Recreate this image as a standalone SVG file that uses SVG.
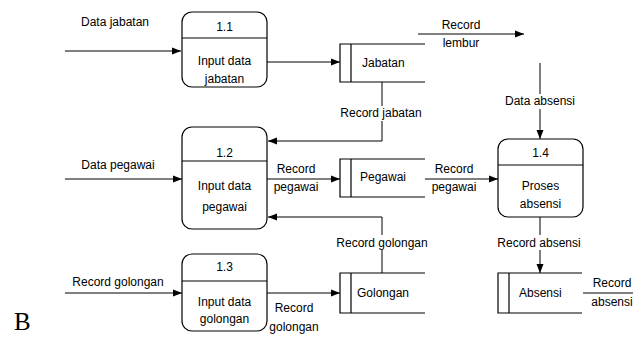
<svg xmlns="http://www.w3.org/2000/svg" width="636" height="337" viewBox="0 0 636 337">
<style>
text{font-family:"Liberation Sans",Arial,sans-serif;font-size:12px;fill:#000}
.c{text-anchor:middle}
.ln{fill:none;stroke:#000;stroke-width:1}
.box{fill:#fff;stroke:#000;stroke-width:1.2}
.st{fill:none;stroke:#000;stroke-width:1.2}
</style>
<defs>
<marker id="ah" markerWidth="9" markerHeight="8" refX="9" refY="4" orient="auto" markerUnits="userSpaceOnUse">
<path d="M0,0.5 L9,4 L0,7.5 Z" fill="#000"/>
</marker>
</defs>
<rect width="636" height="337" fill="#fff"/>
<g id="connectors">
<path class="ln" d="M65,51 H181" marker-end="url(#ah)"/>
<path class="ln" d="M267,62 H340" marker-end="url(#ah)"/>
<path class="ln" d="M418,34 H524" marker-end="url(#ah)"/>
<path class="ln" d="M382,82 V141 H268" marker-end="url(#ah)"/>
<path class="ln" d="M540,63 V139" marker-end="url(#ah)"/>
<path class="ln" d="M65,179 H182" marker-end="url(#ah)"/>
<path class="ln" d="M267,179 H340" marker-end="url(#ah)"/>
<path class="ln" d="M425,179 H498" marker-end="url(#ah)"/>
<path class="ln" d="M382,273 V217 H268" marker-end="url(#ah)"/>
<path class="ln" d="M65,293 H182" marker-end="url(#ah)"/>
<path class="ln" d="M267,293 H340" marker-end="url(#ah)"/>
<path class="ln" d="M540,217 V273" marker-end="url(#ah)"/>
<path class="ln" d="M583,293 H633"/>
<rect x="338" y="106" width="88" height="15" fill="#fff"/>
<rect x="503" y="94" width="74" height="15" fill="#fff"/>
<rect x="336" y="235" width="94" height="15" fill="#fff"/>
<rect x="497" y="235" width="86" height="15" fill="#fff"/>
<text x="115" y="26" class="c">Data jabatan</text>
<text x="461" y="29" class="c">Record</text>
<text x="461" y="47" class="c">lembur</text>
<text x="381" y="117" class="c">Record jabatan</text>
<text x="540" y="105" class="c">Data absensi</text>
<text x="118" y="169" class="c">Data pegawai</text>
<text x="296" y="173" class="c">Record</text>
<text x="296" y="191" class="c">pegawai</text>
<text x="454" y="173" class="c">Record</text>
<text x="454" y="191" class="c">pegawai</text>
<text x="382" y="247" class="c">Record golongan</text>
<text x="539" y="247" class="c">Record absensi</text>
<text x="118" y="286" class="c">Record golongan</text>
<text x="294" y="312" class="c">Record</text>
<text x="294" y="331" class="c">golongan</text>
<text x="612" y="287" class="c">Record</text>
<text x="612" y="306" class="c">absensi</text>
</g>
<g id="p11">
<rect class="box" x="182" y="12" width="85" height="75" rx="10"/>
<line class="st" x1="182" y1="38" x2="267" y2="38"/>
<text x="224.5" y="31" class="c">1.1</text>
<text x="224.5" y="65" class="c">Input data</text>
<text x="224.5" y="83" class="c">jabatan</text>
</g>
<g id="p12">
<rect class="box" x="182" y="127" width="85" height="102" rx="10"/>
<line class="st" x1="182" y1="161" x2="267" y2="161"/>
<text x="224.5" y="157" class="c">1.2</text>
<text x="224.5" y="190" class="c">Input data</text>
<text x="224.5" y="211" class="c">pegawai</text>
</g>
<g id="p13">
<rect class="box" x="182" y="254" width="85" height="77" rx="10"/>
<line class="st" x1="182" y1="281" x2="267" y2="281"/>
<text x="224.5" y="271" class="c">1.3</text>
<text x="224.5" y="306" class="c">Input data</text>
<text x="224.5" y="323" class="c">golongan</text>
</g>
<g id="p14">
<rect class="box" x="498" y="139" width="85" height="78" rx="10"/>
<line class="st" x1="498" y1="165" x2="583" y2="165"/>
<text x="540.5" y="157" class="c">1.4</text>
<text x="540.5" y="190" class="c">Proses</text>
<text x="540.5" y="208" class="c">absensi</text>
</g>
<g id="dsJabatan">
<path class="st" d="M425,44 H340 V82 H425 M351,44 V82"/>
<text x="362" y="67">Jabatan</text>
</g>
<g id="dsPegawai">
<path class="st" d="M425,159 H340 V197 H425 M351,159 V197"/>
<text x="360" y="181">Pegawai</text>
</g>
<g id="dsGolongan">
<path class="st" d="M425,273 H340 V313 H425 M351,273 V313"/>
<text x="357" y="297">Golongan</text>
</g>
<g id="dsAbsensi">
<path class="st" d="M582,273 H498 V313 H582 M509,273 V313"/>
<text x="519" y="297">Absensi</text>
</g>
<text x="14" y="330" style="font-family:'Liberation Serif','Times New Roman',serif;font-size:25px">B</text>
</svg>
